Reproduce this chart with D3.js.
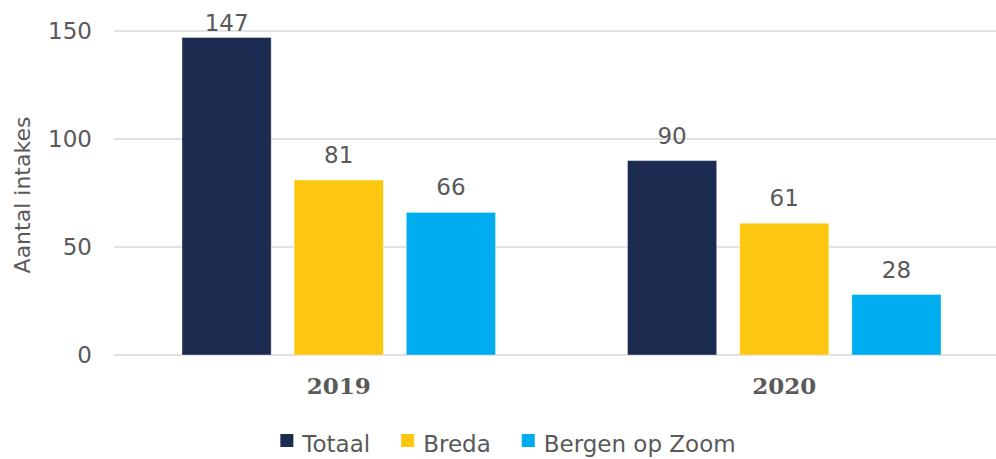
<!DOCTYPE html>
<html>
<head>
<meta charset="utf-8">
<script src="https://cdn.jsdelivr.net/npm/d3@7"></script>
<style>
  body { margin: 0; background: #fff; }
  svg { display: block; font-family: "DejaVu Sans", Verdana, sans-serif; }
  .grid line { stroke: #d9d9d9; stroke-width: 1.5; }
  .tick-label, .value-label, .legend text, .y-title { fill: #595959; }
  .cat-label { fill: #595959; font-family: "DejaVu Serif", Georgia, serif; font-weight: bold; }
</style>
</head>
<body>
<svg id="chart" width="996" height="459"></svg>
<script>
// data
const years = ["2019", "2020"]
const seriesNames = ["Totaal", "Breda", "Bergen op Zoom"]
const totaal = [147, 90]
const breda = [81, 61]
const bergenOpZoom = [66, 28]
const yTicks = [0, 50, 100, 150]
const colours = ["#1c2b50", "#fdc70f", "#00aeef"]

const seriesValues = [totaal, breda, bergenOpZoom]

const svg = d3.select("#chart")

const x = d3.scaleBand()
  .domain(years)
  .range([116, 1007])

const inner = d3.scaleBand()
  .domain(seriesNames)
  .range([66, x.bandwidth() - 66])
  .paddingInner(0.205)

const y = d3.scaleLinear()
  .domain([0, 150])
  .range([355, 31])

// gridlines
svg.append("g")
  .attr("class", "grid")
  .selectAll("line")
  .data(yTicks)
  .join("line")
  .attr("x1", 114)
  .attr("x2", 996)
  .attr("y1", d => y(d))
  .attr("y2", d => y(d))

// tick labels
svg.append("g")
  .selectAll("text")
  .data(yTicks)
  .join("text")
  .attr("class", "tick-label")
  .attr("x", 92)
  .attr("y", d => y(d))
  .attr("dy", "0.36em")
  .attr("text-anchor", "end")
  .style("font-size", "23px")
  .text(d => d)

// y axis title
svg.append("text")
  .attr("class", "y-title")
  .attr("transform", "translate(30," + ((y(0) + y(150)) / 2 + 2) + ") rotate(-90)")
  .attr("text-anchor", "middle")
  .style("font-size", "22px")
  .text("Aantal intakes")

// bars, one group per year
const rows = []
years.forEach((yr, i) => {
  seriesNames.forEach((s, j) => {
    rows.push({ year: yr, series: s, value: seriesValues[j][i], colour: colours[j] })
  })
})

svg.append("g")
  .selectAll("rect")
  .data(rows)
  .join("rect")
  .attr("x", d => x(d.year) + inner(d.series))
  .attr("y", d => y(d.value))
  .attr("width", inner.bandwidth())
  .attr("height", d => y(0) - y(d.value))
  .attr("fill", d => d.colour)
  .attr("stroke", "rgba(255,255,255,0.35)")
  .attr("stroke-width", 1)

// value labels
svg.append("g")
  .selectAll("text")
  .data(rows)
  .join("text")
  .attr("class", "value-label")
  .attr("x", d => x(d.year) + inner(d.series) + inner.bandwidth() / 2)
  .attr("y", d => Math.max(y(d.value) - 17, 31))
  .attr("text-anchor", "middle")
  .style("font-size", "23px")
  .text(d => d.value)

// category labels
svg.append("g")
  .selectAll("text")
  .data(years)
  .join("text")
  .attr("class", "cat-label")
  .attr("x", d => x(d) + x.bandwidth() / 2)
  .attr("y", 394)
  .attr("text-anchor", "middle")
  .style("font-size", "23px")
  .text(d => d)

// legend
const legend = svg.append("g").attr("class", "legend")
const items = legend.selectAll("g")
  .data(seriesNames)
  .join("g")

items.append("rect")
  .attr("width", 13)
  .attr("height", 13)
  .attr("y", 434)
  .attr("fill", (d, i) => colours[i])

items.append("text")
  .attr("x", 22)
  .attr("y", 452)
  .style("font-size", "23px")
  .text(d => d)

const widths = items.nodes().map(n => 22 + d3.select(n).select("text").node().getComputedTextLength())
const gap = 31
const total = d3.sum(widths) + gap * (widths.length - 1)
let pos = 508 - total / 2
items.each(function(d, i) {
  d3.select(this).attr("transform", "translate(" + pos + ",0)")
  pos += widths[i] + gap
})
</script>
</body>
</html>
